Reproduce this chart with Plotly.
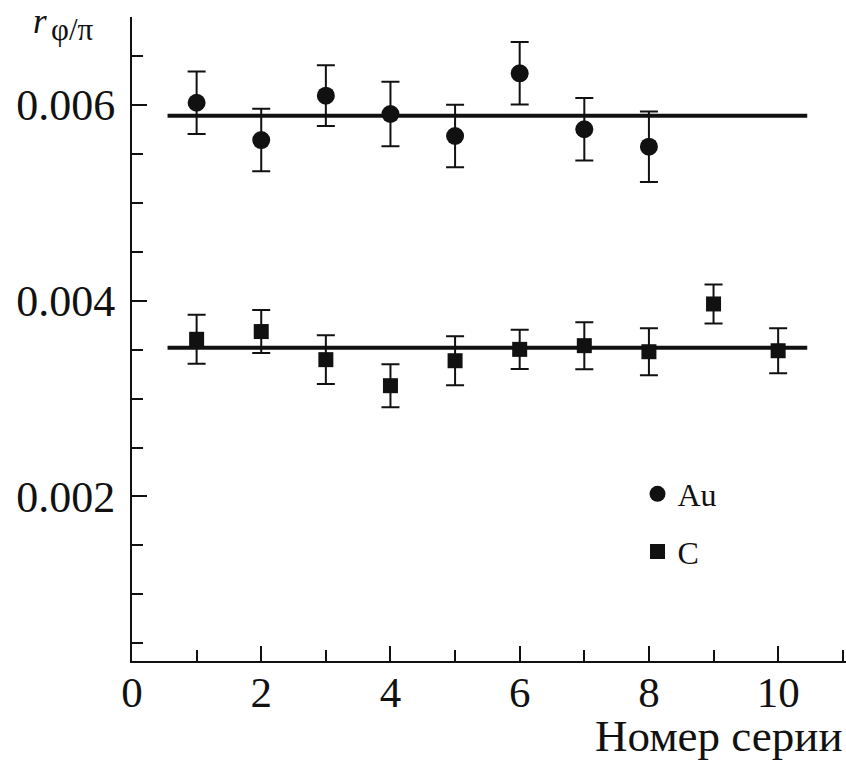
import plotly.graph_objects as go

# Series numbers
series_au = [1, 2, 3, 4, 5, 6, 7, 8]
series_c = [1, 2, 3, 4, 5, 6, 7, 8, 9, 10]

# r_{phi/pi} values and their uncertainties
au_values = [0.006023, 0.005642, 0.006095, 0.005908, 0.005683, 0.006324, 0.005752, 0.005574]
au_errors = [0.00032, 0.00032, 0.00031, 0.00033, 0.00032, 0.00032, 0.00032, 0.00036]
c_values = [0.003606, 0.003685, 0.003398, 0.003132, 0.003387, 0.003503, 0.003541, 0.003479, 0.003967, 0.003489]
c_errors = [0.00025, 0.00022, 0.00025, 0.00022, 0.00025, 0.00020, 0.00024, 0.00024, 0.00020, 0.00023]

# Mean levels drawn as horizontal lines across the series
au_mean = 0.00589
c_mean = 0.00352
mean_span = [0.55, 10.45]

INK = "#111111"
SERIF = "Liberation Serif, Times New Roman, serif"

fig = go.Figure()

fig.add_trace(go.Scatter(
    x=mean_span, y=[au_mean, au_mean], mode="lines",
    line=dict(color=INK, width=4), showlegend=False, hoverinfo="skip"))
fig.add_trace(go.Scatter(
    x=mean_span, y=[c_mean, c_mean], mode="lines",
    line=dict(color=INK, width=4), showlegend=False, hoverinfo="skip"))

fig.add_trace(go.Scatter(
    x=series_au, y=au_values, mode="markers", name="Au",
    legendgroup="au",
    marker=dict(symbol="circle", size=18, color=INK),
    error_y=dict(type="data", array=au_errors, visible=True,
                 color=INK, thickness=2, width=9)))
fig.add_trace(go.Scatter(
    x=series_c, y=c_values, mode="markers", name="C",
    legendgroup="c",
    marker=dict(symbol="square", size=15, color=INK),
    error_y=dict(type="data", array=c_errors, visible=True,
                 color=INK, thickness=2, width=9)))

fig.update_layout(
    width=846, height=764,
    margin=dict(l=132, r=0, t=17, b=103),
    paper_bgcolor="white", plot_bgcolor="white",
    font=dict(family=SERIF, color=INK),
    showlegend=True,
    legend=dict(
        x=0.708, y=0.302, xanchor="left", yanchor="top",
        font=dict(family=SERIF, size=32, color=INK),
        bgcolor="rgba(0,0,0,0)", borderwidth=0,
        traceorder="grouped", tracegroupgap=13,
        itemsizing="trace"),
    xaxis=dict(
        range=[0, 11.05], showgrid=False, zeroline=False,
        showline=True, linecolor=INK, linewidth=2,
        ticks="inside", ticklen=15, tickwidth=2, tickcolor=INK,
        tick0=0, dtick=2,
        minor=dict(dtick=1, ticks="inside", ticklen=11, tickwidth=2, tickcolor=INK),
        tickfont=dict(family=SERIF, size=43, color=INK),
        ticklabelstandoff=-8),
    yaxis=dict(
        range=[0.000319, 0.006899], showgrid=False, zeroline=False,
        showline=True, linecolor=INK, linewidth=2,
        ticks="inside", ticklen=15, tickwidth=2, tickcolor=INK,
        tick0=0, dtick=0.002, tickformat=".3f",
        minor=dict(dtick=0.0005, ticks="inside", ticklen=11, tickwidth=2, tickcolor=INK),
        tickfont=dict(family=SERIF, size=44, color=INK),
        ticklabelstandoff=6),
)

# Axis titles
fig.add_annotation(
    text="Номер серии", xref="paper", yref="paper",
    x=0.998, y=-0.158, xanchor="right", yanchor="bottom",
    showarrow=False, font=dict(family=SERIF, size=45, color=INK))
fig.add_annotation(
    text="<i>r</i>", xref="paper", yref="paper",
    x=-0.141, y=1.0264, xanchor="left", yanchor="top",
    showarrow=False, font=dict(family=SERIF, size=35, color=INK))
fig.add_annotation(
    text="φ/π", xref="paper", yref="paper",
    x=-0.116, y=0.981, xanchor="left", yanchor="middle",
    showarrow=False, font=dict(family=SERIF, size=31, color=INK))

fig.write_html("out.html")
